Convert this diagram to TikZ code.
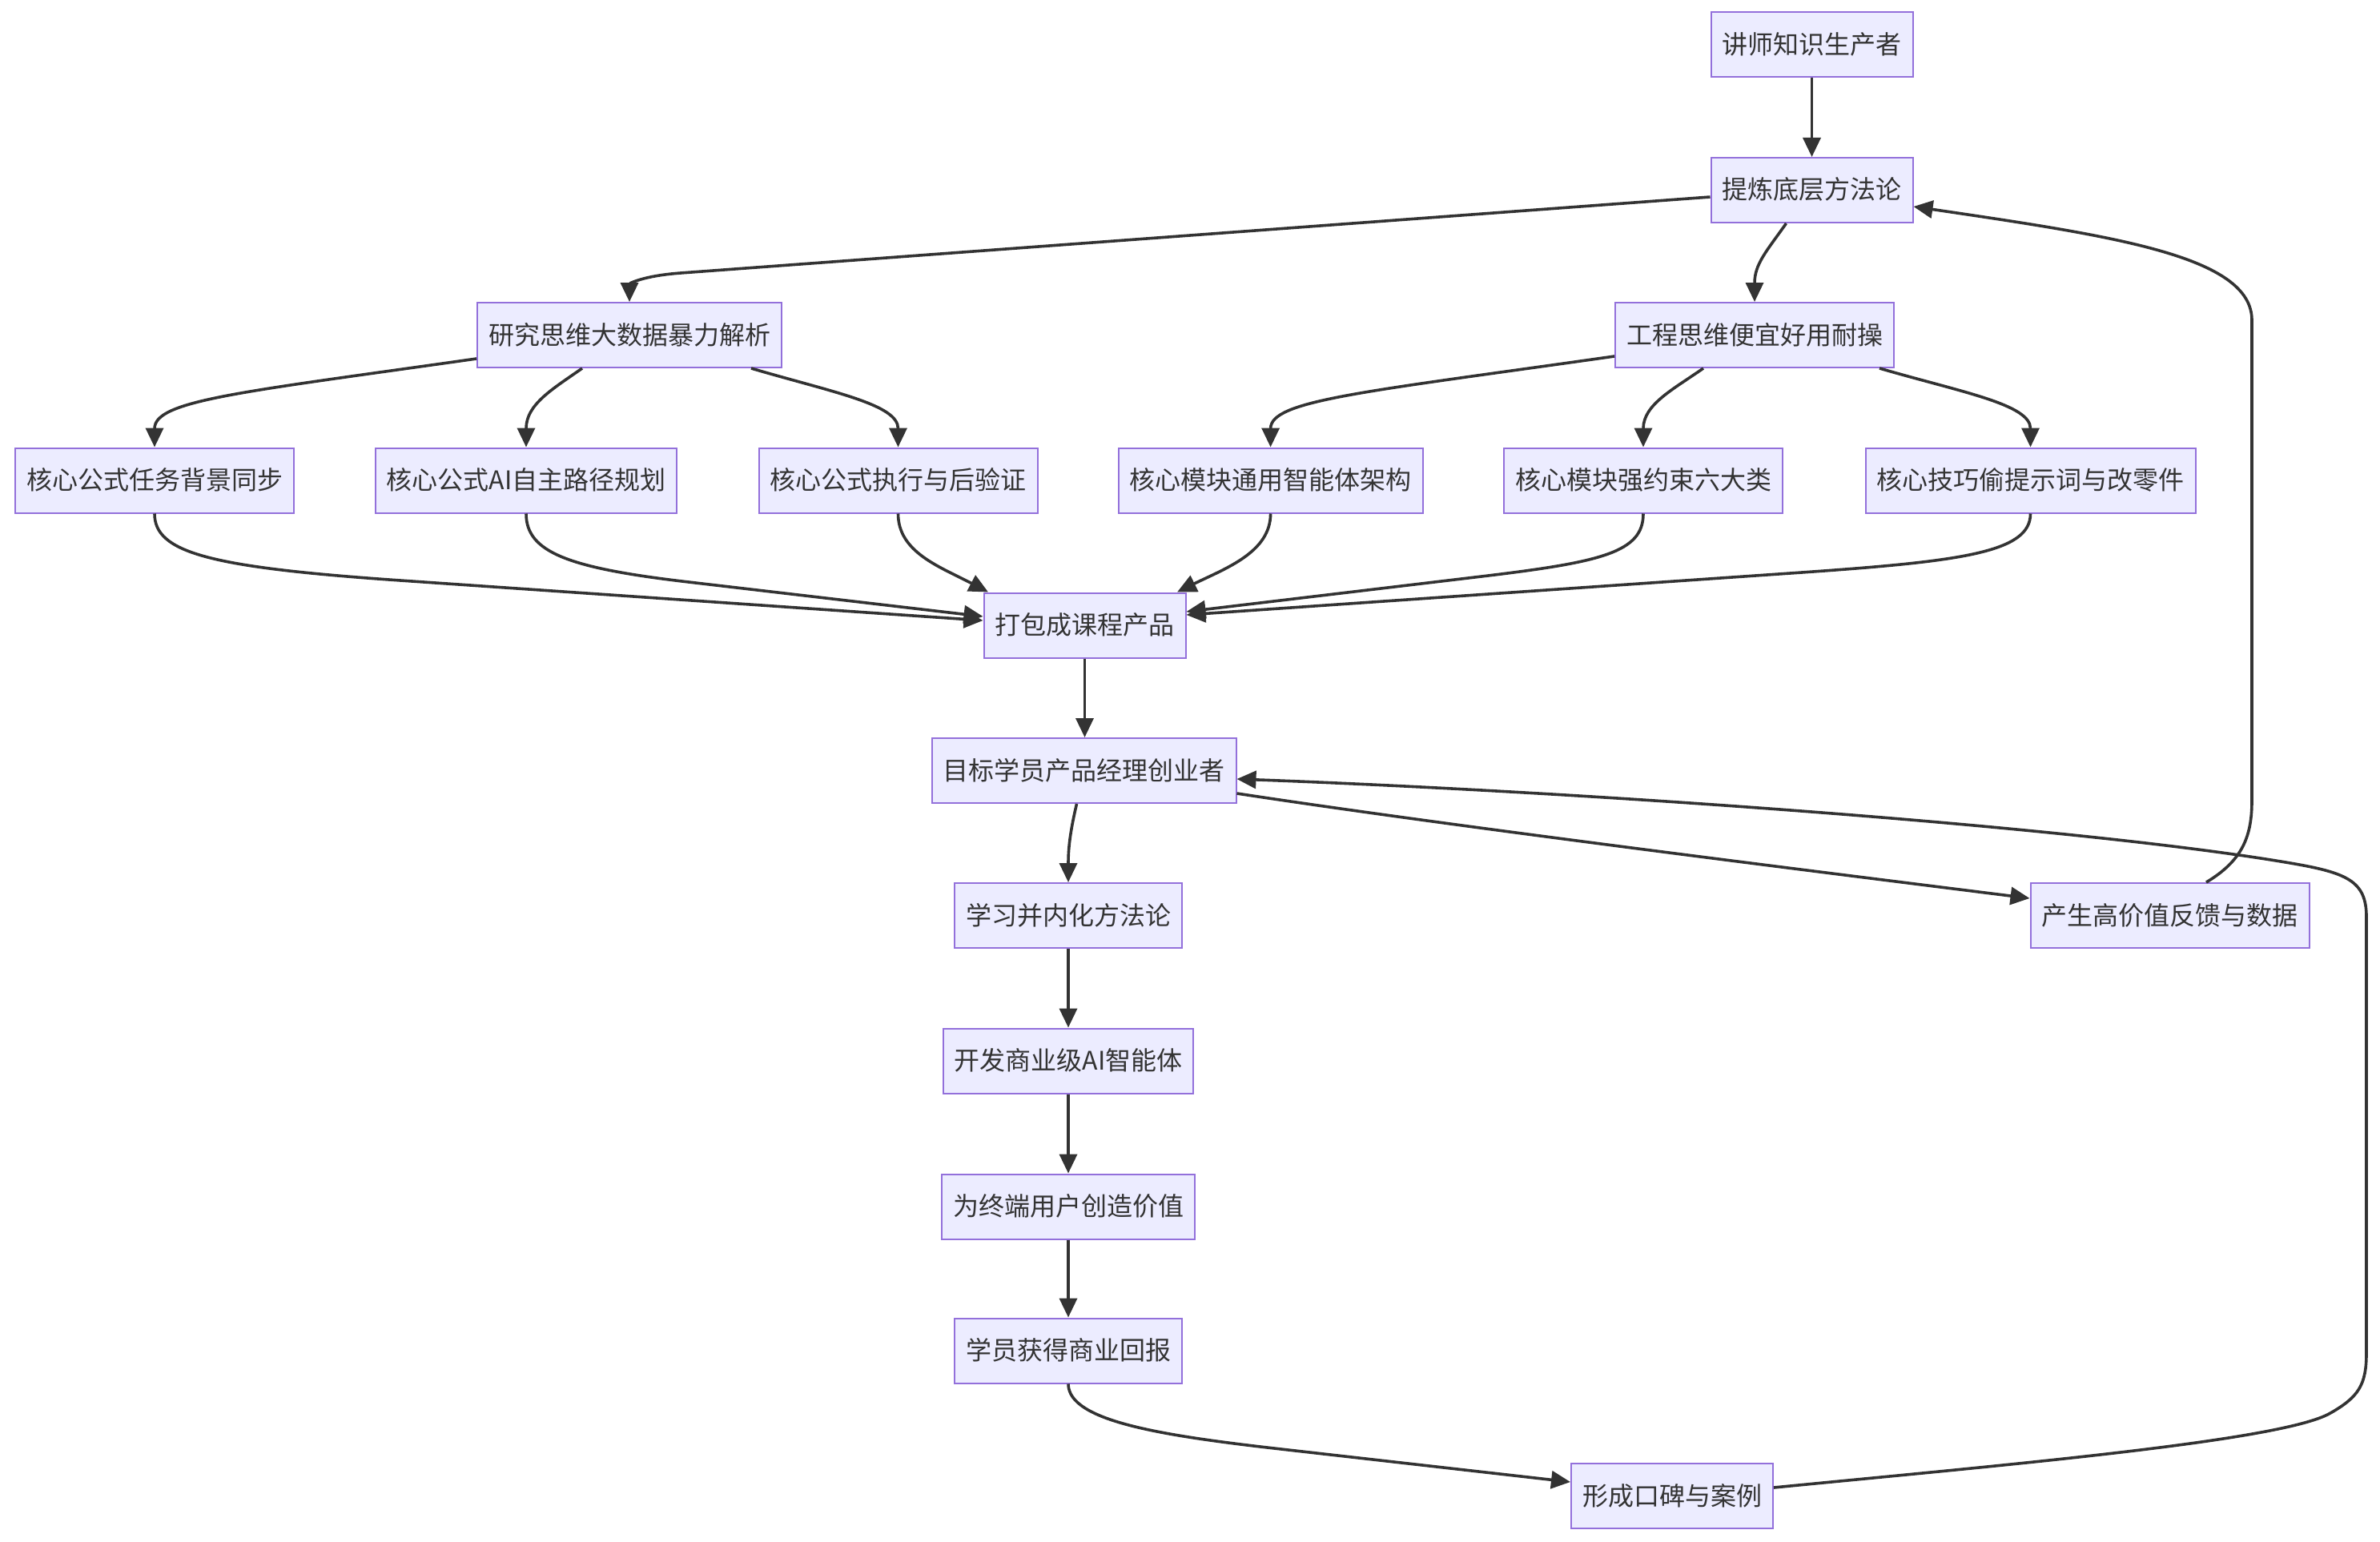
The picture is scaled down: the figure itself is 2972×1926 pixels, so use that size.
\documentclass[tikz,border=0pt]{standalone}
\usepackage{fontspec}
\newfontfamily\cjkfont{Noto Sans CJK SC}
\usetikzlibrary{arrows.meta,calc}
\definecolor{nodefill}{HTML}{ECECFF}
\definecolor{nodeline}{HTML}{9370DB}
\definecolor{edgecol}{HTML}{333333}
\begin{document}
\begin{tikzpicture}[x=0.5pt,y=-0.5pt,
  box/.style={draw=nodeline, fill=nodefill, line width=1pt, minimum height=40.5pt,
    inner xsep=7pt, inner ysep=0pt, text height=13pt, text depth=1.5pt,
    font=\cjkfont\fontsize{16pt}{19pt}\selectfont, text=edgecol},
  link/.style={draw=edgecol, line width=1.8pt, -{Triangle[length=12pt,width=11pt]}}]
\useasboundingbox[fill=white] (0,0) rectangle (2972,1926);

\node[box] (n1) at (2262.5,56) {讲师知识生产者};
\node[box] (n2) at (2262.5,237.5) {提炼底层方法论};
\node[box] (n3) at (786,418.5) {研究思维大数据暴力解析};
\node[box] (n4) at (2191,418.5) {工程思维便宜好用耐操};
\node[box] (c1) at (193,600) {核心公式任务背景同步};
\node[box] (c2) at (657,600) {核心公式AI自主路径规划};
\node[box] (c3) at (1121.5,600) {核心公式执行与后验证};
\node[box] (c4) at (1586.6,600) {核心模块通用智能体架构};
\node[box] (c5) at (2052,600) {核心模块强约束六大类};
\node[box] (c6) at (2535.5,600) {核心技巧偷提示词与改零件};
\node[box] (p) at (1354.5,781) {打包成课程产品};
\node[box] (t) at (1353.5,962.5) {目标学员产品经理创业者};
\node[box] (l) at (1334,1143.5) {学习并内化方法论};
\node[box] (f) at (2709.5,1143.5) {产生高价值反馈与数据};
\node[box] (d) at (1334,1325) {开发商业级AI智能体};
\node[box] (v) at (1334,1507) {为终端用户创造价值};
\node[box] (r) at (1334,1687) {学员获得商业回报};
\node[box] (k) at (2088,1868.5) {形成口碑与案例};

\draw[link] (n1) -- (n2);
\draw[link] ($(n2.west)+(0,8.5)$) -- (850,341) .. controls (800,344.7) and (786,355) .. (n3.north);
\draw[link] ($(n2.south)+(-32,0)$) .. controls (2205,315) and (2191,330) .. (n4.north);
\draw[link] ($(f.north)+(45.5,0)$) .. controls (2800,1075) and (2812,1045) .. (2812,1000) -- (2812,400) .. controls (2812,320) and (2640,295) .. ($(n2.east)+(0,20.5)$);

\draw[link] ($(n3.west)+(0,29.5)$) .. controls (300,490) and (193,500) .. (c1.north);
\draw[link] ($(n3.south)+(-59,0)$) .. controls (690,486) and (657,505) .. (c2.north);
\draw[link] ($(n3.south)+(152,0)$) .. controls (1040,490) and (1121.5,505) .. (c3.north);
\draw[link] ($(n4.west)+(0,26.5)$) .. controls (1700,490) and (1586.6,500) .. (c4.north);
\draw[link] ($(n4.south)+(-64,0)$) .. controls (2090,486) and (2052,505) .. (c5.north);
\draw[link] ($(n4.south)+(156,0)$) .. controls (2450,490) and (2535.5,505) .. (c6.north);

\draw[link] (c1.south) .. controls (193,690) and (260,708.5) .. (500,725) -- ($(p.west)+(0,-6)$);
\draw[link] (c2.south) .. controls (657,690) and (710,709.5) .. (860,727) -- ($(p.west)+(0,-11)$);
\draw[link] (c3.south) .. controls (1121.5,690) and (1174,708) .. ($(p.north)+(-120.5,0)$);
\draw[link] (c4.south) .. controls (1586.6,690) and (1530,710) .. ($(p.north)+(115.5,0)$);
\draw[link] (c5.south) .. controls (2052,690) and (2000,702) .. (1850,720) -- ($(p.east)+(0,-17)$);
\draw[link] (c6.south) .. controls (2535.5,690) and (2450,701) .. (2250,715) -- ($(p.east)+(0,-13)$);

\draw[link] (p.south) -- (p.south |- t.north);
\draw[link] ($(t.south)+(-9,0)$) .. controls (1336,1040) and (1334,1060) .. (l.north);
\draw[link] ($(t.east)+(0,28.5)$) .. controls (1800,1030) and (2200,1080) .. ($(f.west)+(0,-21.5)$);
\draw[link] (l) -- (d);
\draw[link] (d) -- (v);
\draw[link] (v) -- (r);
\draw[link] (r.south) .. controls (1334,1775) and (1450,1793) .. (1600,1810) -- ($(k.west)+(0,-17.5)$);
\draw[link] ($(k.east)+(0,-10.5)$) .. controls (2500,1830) and (2850,1800) .. (2910,1765) .. controls (2945,1745) and (2955,1730) .. (2955,1690) -- (2955,1145) .. controls (2955,1100) and (2930,1090) .. (2860,1078) .. controls (2600,1033.4) and (2000,990) .. ($(t.east)+(0,10.5)$);
\end{tikzpicture}
\end{document}
